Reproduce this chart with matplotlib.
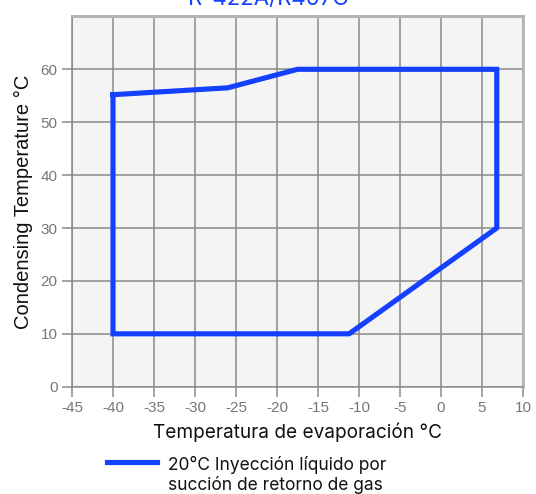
import matplotlib
matplotlib.use("Agg")
import matplotlib.pyplot as plt

plt.rcParams["axes.unicode_minus"] = False

# envelope (evaporating temp, condensing temp)
evap_temps = [-40, -26, -17.5, 6.8, 6.8, -11.2, -40, -40]
cond_temps = [55.2, 56.5, 60, 60, 30, 10, 10, 55.2]
series_label = "20°C Inyección líquido por\nsucción de retorno de gas"

x_ticks = list(range(-45, 11, 5))
y_ticks = list(range(0, 61, 10))

title_text = "R-422A/R407C"
xlabel_text = "Temperatura de evaporación °C"
ylabel_text = "Condensing Temperature °C"

BLUE = "#1440ff"
GRID = "#8a8a8a"

fig = plt.figure(figsize=(5.36, 4.94), dpi=100)
ax = fig.add_axes([72 / 536, 107.3 / 494, 451 / 536, 370.3 / 494])
ax.set_facecolor("#f4f4f4")

line, = ax.plot(evap_temps, cond_temps, color=BLUE, lw=3.7,
                solid_joinstyle="miter", label=series_label)

ax.set_xlim(-45, 10)
ax.set_ylim(0, 70)
ax.set_xticks(x_ticks)
ax.set_yticks(y_ticks)
ax.grid(True, color=GRID, lw=1.1)
ax.axhline(70, color="#b5b5b5", lw=2, clip_on=False)
ax.set_axisbelow(True)

for side in ["top", "right"]:
    ax.spines[side].set_color("#b5b5b5")
    ax.spines[side].set_linewidth(2)
for side in ["left", "bottom"]:
    ax.spines[side].set_color(GRID)
    ax.spines[side].set_linewidth(1.1)

ax.tick_params(axis="both", colors=GRID, length=7, width=1.1,
               labelcolor="#777777", labelsize=11)
for lbl in ax.get_xticklabels() + ax.get_yticklabels():
    lbl.set_family("Liberation Sans")

ax.set_xlabel(xlabel_text, fontsize=13.7, family="Inter", color="#111111", labelpad=5)
ax.set_ylabel(ylabel_text, fontsize=14.5, family="Liberation Sans", color="#111111", labelpad=5)

fig.text(0.5, 1 - 5 / 494, title_text, ha="center", va="baseline",
         fontsize=16, color=BLUE, family="Inter")

leg = fig.legend(handles=[line], loc="center left", bbox_to_anchor=(107 / 536, 1 - 475 / 494),
                 frameon=False, prop={"family": "Inter", "size": 12.5},
                 handlelength=2.9, handletextpad=0.6, borderaxespad=0, borderpad=0)
for t in leg.get_texts():
    t.set_color("#111111")
# keep the line next to the first line of the two-line label
for col in leg._legend_handle_box.get_children():
    for row in col.get_children():
        row.align = "top"

fig.savefig("out.png", dpi=100)
